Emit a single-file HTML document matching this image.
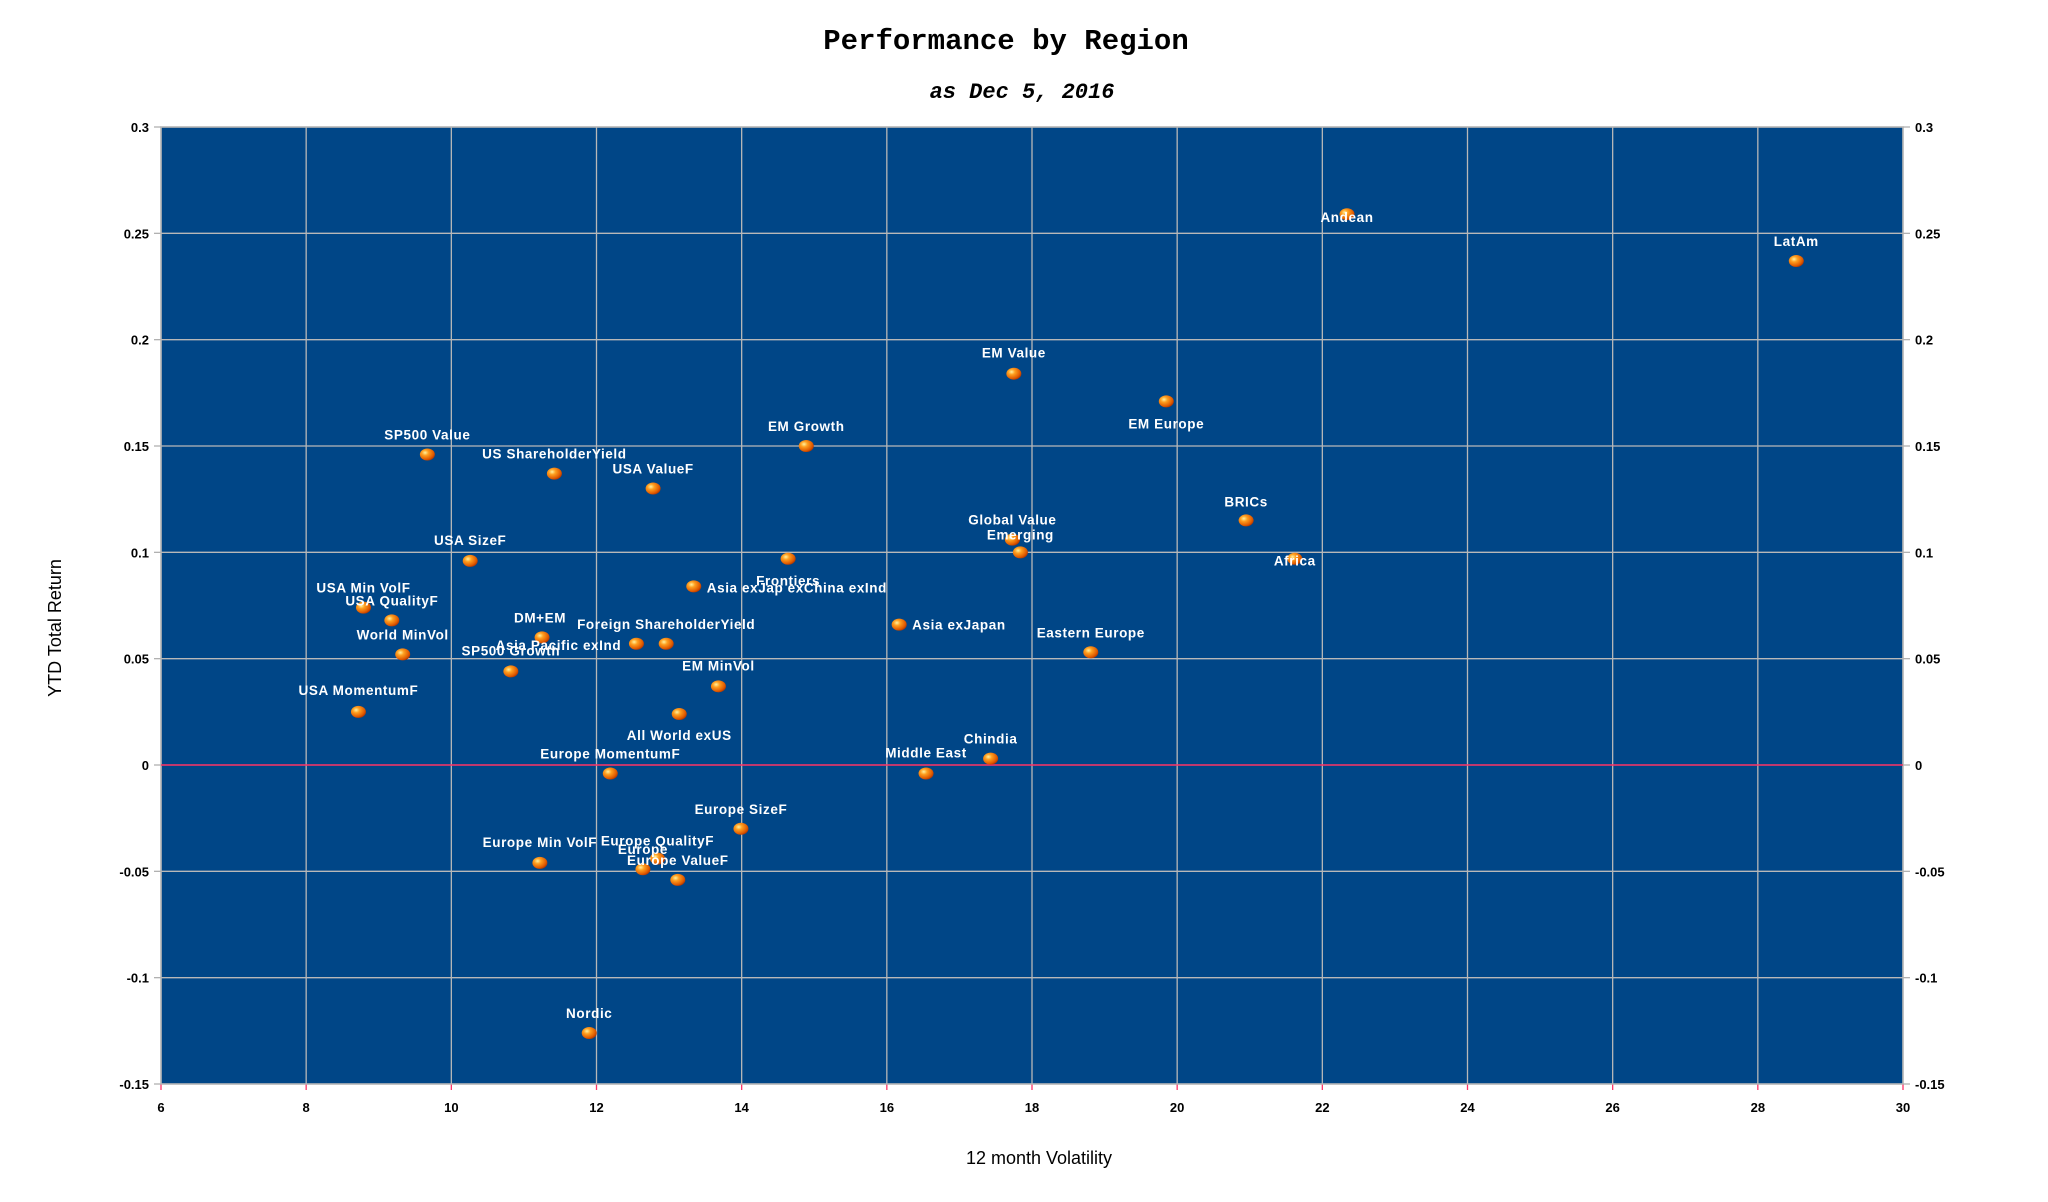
<!DOCTYPE html>
<html><head><meta charset="utf-8"><style>
body{margin:0;background:#fff;width:2048px;height:1202px;overflow:hidden}
svg{display:block}
</style></head><body>
<svg id="chart" width="2048" height="1202" xmlns="http://www.w3.org/2000/svg">
<defs>
<radialGradient id="ball" cx="0.35" cy="0.35" r="0.75">
<stop offset="0" stop-color="#fff2a0"/><stop offset="0.3" stop-color="#ffa020"/><stop offset="0.75" stop-color="#e05a00"/><stop offset="1" stop-color="#a02800"/>
</radialGradient>
</defs>
<text x="1006" y="49" text-anchor="middle" font-family="Liberation Mono, monospace" font-weight="bold" font-size="29" fill="#000">Performance by Region</text>
<text x="1022" y="98" text-anchor="middle" font-family="Liberation Mono, monospace" font-weight="bold" font-style="italic" font-size="22" fill="#000">as Dec 5, 2016</text>
<g id="plot"></g>
<text x="1039" y="1164" text-anchor="middle" font-family="Liberation Sans, sans-serif" font-size="18" fill="#000">12 month Volatility</text>
<text transform="translate(61,628) rotate(-90)" text-anchor="middle" font-family="Liberation Sans, sans-serif" font-size="18" fill="#000">YTD Total Return</text>
</svg>
<script>
const names=["Andean","LatAm","EM Value","EM Europe","EM Growth","SP500 Value","US ShareholderYield","USA ValueF","BRICs","Global Value","Emerging","Africa","Frontiers","USA SizeF","Asia exJap exChina exInd","USA Min VolF","USA QualityF","Asia exJapan","DM+EM","Foreign ShareholderYield","Asia Pacific exInd","World MinVol","Eastern Europe","SP500 Growth","EM MinVol","USA MomentumF","All World exUS","Chindia","Middle East","Europe MomentumF","Europe SizeF","Europe QualityF","Europe Min VolF","Europe","Europe ValueF","Nordic"];
const volatility=[22.34,28.53,17.75,19.85,14.89,9.67,11.42,12.78,20.95,17.73,17.84,21.62,14.64,10.26,13.34,8.79,9.18,16.17,11.25,12.96,12.55,9.33,18.81,10.82,13.68,8.72,13.14,17.43,16.54,12.19,13.99,12.84,11.22,12.64,13.12,11.9];
const ytdReturn=[0.259,0.237,0.184,0.171,0.150,0.146,0.137,0.130,0.115,0.106,0.100,0.097,0.097,0.096,0.084,0.074,0.068,0.066,0.060,0.057,0.057,0.052,0.053,0.044,0.037,0.025,0.024,0.003,-0.004,-0.004,-0.030,-0.044,-0.046,-0.049,-0.054,-0.126];
const xTicks=[6,8,10,12,14,16,18,20,22,24,26,28,30];
const yTicks=[0.3,0.25,0.2,0.15,0.1,0.05,0,-0.05,-0.1,-0.15];
const yTickLabels=["0.3","0.25","0.2","0.15","0.1","0.05","0","-0.05","-0.1","-0.15"];
// label placement offsets (style, px): [dx, dy, anchor]
const labelPos=[[0,3,"m"],[0,-20,"m"],[0,-21,"m"],[0,22,"m"],[0,-20,"m"],[0,-20,"m"],[0,-20,"m"],[0,-20,"m"],[0,-19,"m"],[0,-20,"m"],[0,-18,"m"],[0,2,"m"],[0,22,"m"],[0,-21,"m"],[13,1,"s"],[0,-20,"m"],[0,-20,"m"],[13,0,"s"],[-2,-20,"m"],[0,-20,"m"],[-78,1,"m"],[0,-20,"m"],[0,-20,"m"],[0,-21,"m"],[0,-21,"m"],[0,-22,"m"],[0,21,"m"],[0,-20,"m"],[0,-21,"m"],[0,-20,"m"],[0,-20,"m"],[0,-18,"m"],[0,-21,"m"],[0,-20,"m"],[0,-20,"m"],[0,-20,"m"]];
const L=161,R=1903,T=127,B=1084;
const xS=v=>L+(v-6)/24*(R-L);
const yS=v=>T+(0.3-v)/0.45*(B-T);
const NS="http://www.w3.org/2000/svg";
const g=document.getElementById('plot');
function mk(t,a,p){const e=document.createElementNS(NS,t);for(const k in a)e.setAttribute(k,a[k]);(p||g).appendChild(e);return e;}
const bg=mk('rect',{x:L,y:T,width:R-L,height:B-T,fill:'#004687',stroke:'#b0b0b0','stroke-width':1.5});


xTicks.forEach(v=>{const x=xS(v);
 const gl=mk('line',{x1:x,y1:T,x2:x,y2:B,stroke:'#b8b8b8','stroke-width':1.3});
 
 
 mk('line',{x1:x,y1:B,x2:x,y2:B+6,stroke:'#ff3366','stroke-width':1.3});
 const t=mk('text',{x:x,y:B+28,'text-anchor':'middle','font-family':'Liberation Sans, sans-serif','font-weight':'bold','font-size':13,fill:'#000'});
 t.textContent=v;
 
 
});
yTicks.forEach((v,i)=>{const y=yS(v);
 if(v!==0){const gl=mk('line',{x1:L,y1:y,x2:R,y2:y,stroke:'#b8b8b8','stroke-width':1.3});
 
 }
 mk('line',{x1:L-7,y1:y,x2:L,y2:y,stroke:'#b0b0b0','stroke-width':1.3});
 mk('line',{x1:R,y1:y,x2:R+7,y2:y,stroke:'#b0b0b0','stroke-width':1.3});
 const t=mk('text',{x:L-12,y:y+5,'text-anchor':'end','font-family':'Liberation Sans, sans-serif','font-weight':'bold','font-size':13,fill:'#000'});
 t.textContent=yTickLabels[i];
 
 
 const t2=mk('text',{x:R+12,y:y+5,'text-anchor':'start','font-family':'Liberation Sans, sans-serif','font-weight':'bold','font-size':13,fill:'#000'});
 t2.textContent=yTickLabels[i];
 
 
});
const zl=mk('line',{x1:L,y1:yS(0),x2:R,y2:yS(0),stroke:'#ff3366','stroke-width':1.5});


names.forEach((n,i)=>{const x=xS(volatility[i]),y=yS(ytdReturn[i]);
 const c=mk('ellipse',{cx:x,cy:y,rx:7.5,ry:6,fill:'url(#ball)'});
 
 
 const p=labelPos[i];
 const t=mk('text',{x:x+p[0],y:y+p[1]+5,'text-anchor':p[2]==='s'?'start':'middle','font-family':'Liberation Sans, sans-serif','font-weight':'bold','font-size':13.5,'letter-spacing':0.6,fill:'#fff'});
 t.textContent=n;
 
 
});
</script>
</body></html>
